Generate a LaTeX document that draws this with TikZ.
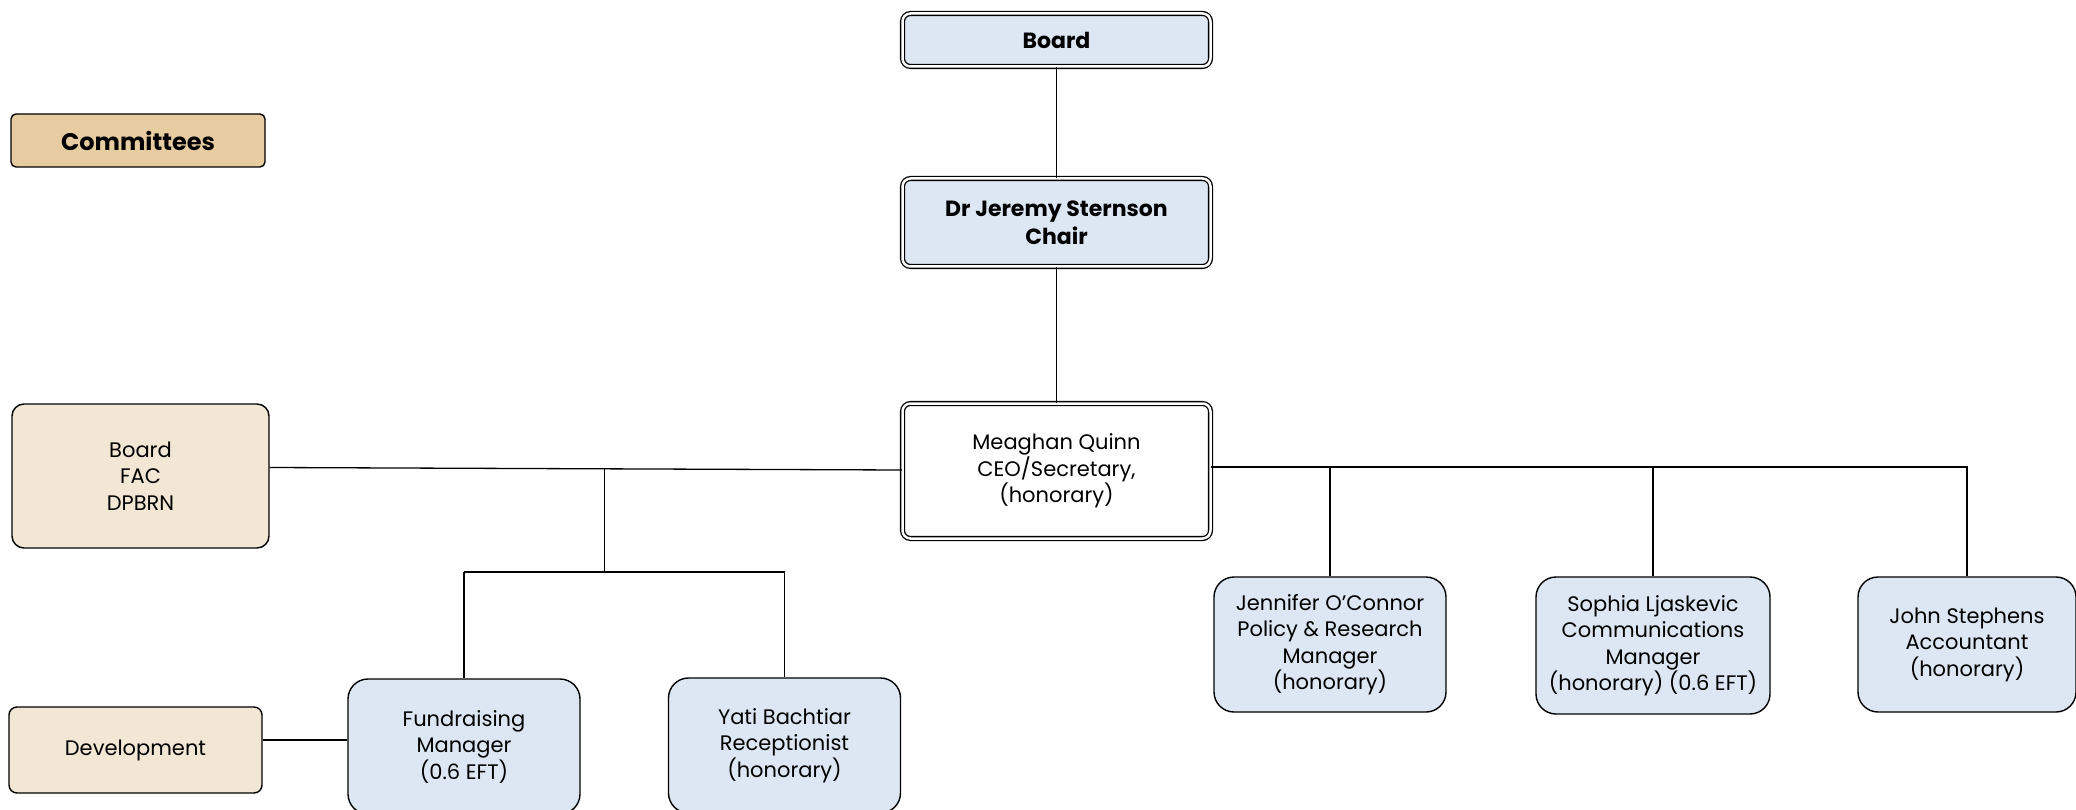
\documentclass[tikz,border=0pt]{standalone}
\usepackage{fontspec}
\setmainfont{Poppins}
\usetikzlibrary{calc}

\definecolor{staffblue}{HTML}{DDE7F3}
\definecolor{comtan}{HTML}{E6CCA0}
\definecolor{comlight}{HTML}{F2E6D5}

\tikzset{
  boardbox/.style={draw, double, double distance=2.5pt, line width=1.3pt, fill=staffblue,
    rounded corners=8pt, minimum width=308pt, align=center,
    font=\fontsize{22}{28}\selectfont\bfseries},
  staffbox/.style={draw, line width=1.4pt, fill=staffblue, rounded corners=20pt,
    align=center, font=\fontsize{21}{26.5}\selectfont},
  combox/.style={draw, line width=1.4pt, fill=comlight, rounded corners=12pt,
    align=center, font=\fontsize{21}{26.5}\selectfont},
  link/.style={line width=1.3pt}
}

\begin{document}
\begin{tikzpicture}[x=1pt,y=-1pt]
    \newcommand{\midx}{1056.5}
    \newcommand{\boxw}{232pt}
    \newcommand{\boxh}{135pt}
    \newcommand{\barrow}{572}

    \useasboundingbox (0,0) rectangle (2076,810);

    % board and chair
    \node[boardbox, minimum height=53pt] (board) at (\midx,40) {Board};
    \node[boardbox, minimum height=88pt] (chair) at (\midx,222.5) {Dr Jeremy Sternson\\Chair};
    \node[boardbox, minimum height=135pt, fill=white, font=\fontsize{21}{26.5}\selectfont]
        (ceo) at (\midx,471) {Meaghan Quinn\\CEO/Secretary,\\(honorary)};

    % committees
    \node[draw, line width=1.4pt, fill=comtan, rounded corners=5pt, minimum width=254pt,
        minimum height=53pt, font=\fontsize{24}{29}\selectfont\bfseries]
        (committees) at (138,140.5) {Committees};
    \node[combox, minimum width=257pt, minimum height=144pt] (boardfac) at (140.5,476)
        {Board\\FAC\\DPBRN};
    \node[combox, rounded corners=8pt, minimum width=253pt, minimum height=86pt]
        (development) at (135.5,750) {Development};

    % staff
    \node[staffbox, minimum width=\boxw, minimum height=\boxh] (fundraising) at (464,746.5)
        {Fundraising\\Manager\\(0.6 EFT)};
    \node[staffbox, minimum width=\boxw, minimum height=\boxh] (yati) at (784.5,745.5)
        {Yati Bachtiar\\Receptionist\\(honorary)};
    \node[staffbox, minimum width=\boxw, minimum height=\boxh] (jennifer) at (1330,644.5)
        {Jennifer O'Connor\\Policy \& Research\\Manager\\(honorary)};
    \node[staffbox, minimum width=234pt, minimum height=137pt] (sophia) at (1653,645.5)
        {Sophia Ljaskevic\\Communications\\Manager\\(honorary) (0.6 EFT)};
    \node[staffbox, minimum width=218pt, minimum height=\boxh] (john) at (1967,644.5)
        {John Stephens\\Accountant\\(honorary)};

    % links down the middle
    \draw[link] (board) -- (chair);
    \draw[link] (chair) -- (ceo);

    % left branch
    \draw[link] ([yshift=8.5pt]boardfac.east) -- ([yshift=1pt]ceo.west);
    \coordinate (lsplit) at ($([yshift=8.5pt]boardfac.east)!0.53!([yshift=1pt]ceo.west)$);
    \coordinate (lbar) at (lsplit |- 0,\barrow);
    \draw[link] (lsplit) -- (lbar);
    \draw[link] (fundraising.north |- lbar) -- (yati.north |- lbar);
    \draw[link] (fundraising.north |- lbar) -- (fundraising.north);
    \draw[link] (yati.north |- lbar) -- (yati.north);
    \draw[link] ([yshift=10pt]development.east) -- ([yshift=10pt]development.east -| fundraising.west);

    % right branch
    \coordinate (rbar) at ([yshift=4pt]ceo.east);
    \draw[link] (rbar) -- (rbar -| john.north) -- (john.north);
    \draw[link] (jennifer.north) -- (jennifer.north |- rbar);
    \draw[link] (sophia.north) -- (sophia.north |- rbar);
\end{tikzpicture}
\end{document}
